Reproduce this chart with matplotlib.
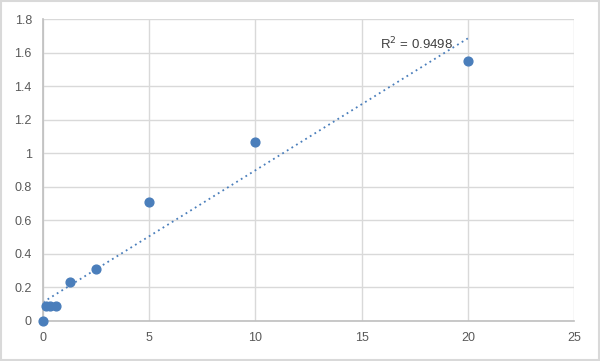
import numpy as np
import matplotlib.pyplot as plt

plt.rcParams['font.family'] = ['Liberation Sans', 'DejaVu Sans']

conc = [0, 0.156, 0.3125, 0.625, 1.25, 2.5, 5, 10, 20]
od = [0.0, 0.09, 0.09, 0.09, 0.23, 0.31, 0.71, 1.07, 1.55]
r2_label = 'R$^2$ = 0.9498'

fig = plt.figure(figsize=(6, 3.61), dpi=100)
fig.patch.set_facecolor('white')
# outer frame
fig.add_artist(plt.Rectangle((0.002, 0.003), 0.996, 0.994, transform=fig.transFigure,
                             fill=False, edgecolor='#d9d9d9', linewidth=1.5))
ax = fig.add_axes([0.0717, 0.111, 0.885, 0.836])

x = np.array(conc)
y = np.array(od)
k, b = np.polyfit(x, y, 1)
xs = np.array([0, 20])
ax.plot(xs, k * xs + b, color='#4a7ebb', linestyle=(0, (1, 2)), linewidth=1.3, zorder=2)
ax.scatter(x, y, s=40, color='#4a7ebb', zorder=3, clip_on=False)

ax.set_xlim(0, 25)
ax.set_ylim(0, 1.8)
ax.set_xticks(np.arange(0, 26, 5))
ax.set_yticks(np.arange(0, 1.81, 0.2))
ax.set_yticklabels(['0', '0.2', '0.4', '0.6', '0.8', '1', '1.2', '1.4', '1.6', '1.8'])
ax.grid(True, color='#d9d9d9', linewidth=1)
ax.set_axisbelow(True)
for s in ['top', 'right']:
    ax.spines[s].set_visible(False)
for s in ['left', 'bottom']:
    ax.spines[s].set_color('#bfbfbf')
    ax.spines[s].set_linewidth(1.2)
ax.tick_params(length=0, labelsize=9, labelcolor='#595959', pad=8)

ax.text(15.85, 1.62, r2_label, fontsize=9.5, color='#404040')

fig.savefig('out.png', dpi=100)
